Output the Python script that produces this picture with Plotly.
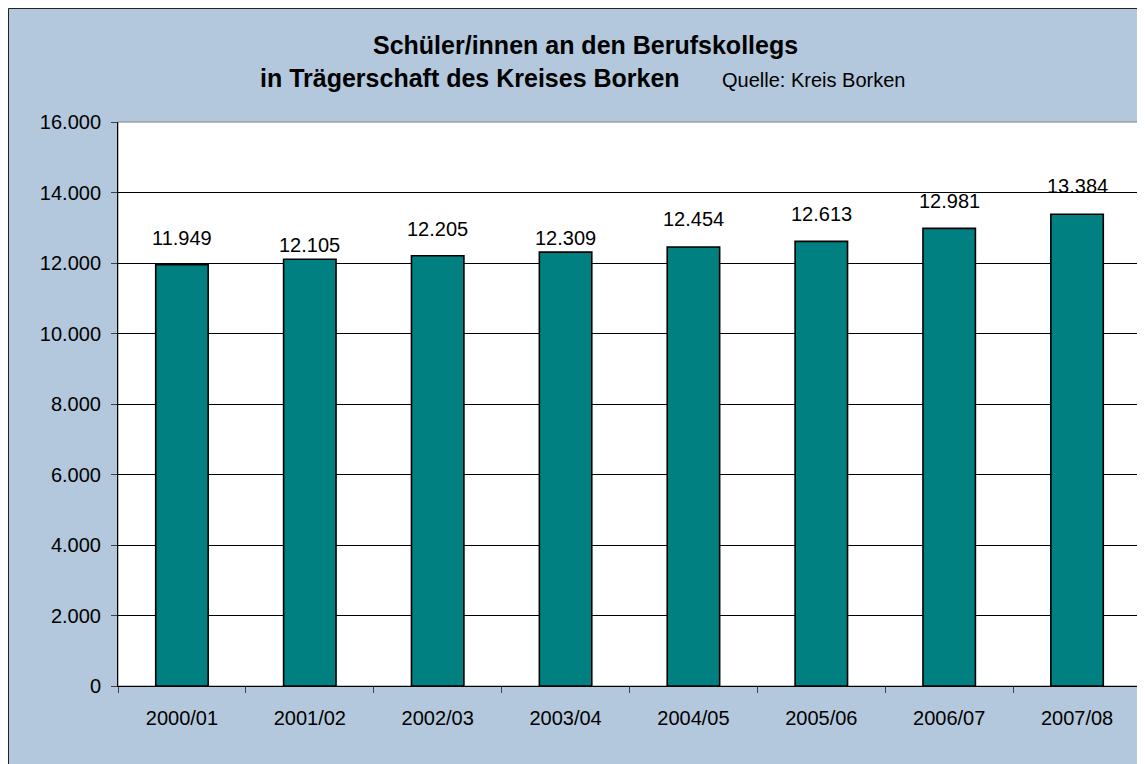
import plotly.graph_objects as go

# ---- data ----
years = ["2000/01", "2001/02", "2002/03", "2003/04", "2004/05", "2005/06", "2006/07", "2007/08"]
students = [11949, 12105, 12205, 12309, 12454, 12613, 12981, 13384]
y_ticks = [0, 2000, 4000, 6000, 8000, 10000, 12000, 14000, 16000]

# label offsets above bar tops (px) as placed in the original chart
label_shift = [27, 14, 27, 14, 28, 27, 27, 28]

FONT = "Liberation Sans, Arial, sans-serif"
BLUE = "#B3C8DC"
TEAL = "#008080"

W, H = 1137, 756
ML, MR, MT, MB = 110, 4, 114, 78
PW, PH = W - ML - MR, H - MT - MB


def px(X):
    return (X - ML) / PW


def py(Y):
    return (H - MB - Y) / PH


fig = go.Figure()
fig.add_trace(go.Bar(
    x=years, y=students,
    marker=dict(color=TEAL, line=dict(color="black", width=1.6)),
    width=0.41,
    hoverinfo="x+y",
))

annotations = []
for yr, v, s in zip(years, students, label_shift):
    annotations.append(dict(
        x=yr, y=v, xref="x", yref="y", text=f"{v:,}".replace(",", "."),
        showarrow=False, yanchor="middle", xanchor="center", yshift=s,
        font=dict(family=FONT, size=20, color="black"),
    ))

annotations += [
    dict(x=px(577), y=py(37), xref="paper", yref="paper",
         text="<b>Schüler/innen an den Berufskollegs</b>", showarrow=False,
         xanchor="center", yanchor="middle",
         font=dict(family=FONT, size=25, color="black")),
    dict(x=px(462), y=py(70), xref="paper", yref="paper",
         text="<b>in Trägerschaft des Kreises Borken</b>", showarrow=False,
         xanchor="center", yanchor="middle",
         font=dict(family=FONT, size=25, color="black")),
    dict(x=px(712), y=py(72), xref="paper", yref="paper",
         text="Quelle: Kreis Borken", showarrow=False,
         xanchor="left", yanchor="middle",
         font=dict(family=FONT, size=20, color="black")),
]

shapes = [
    # outer chart border (left & top visible)
    dict(type="line", xref="paper", yref="paper", x0=px(0.5), x1=px(W + 5), y0=py(0.5), y1=py(0.5),
         line=dict(color="#222222", width=1)),
    dict(type="line", xref="paper", yref="paper", x0=px(0.5), x1=px(0.5), y0=py(0.5), y1=py(H + 5),
         line=dict(color="#222222", width=1)),
    # plot area frame
    dict(type="rect", xref="paper", yref="paper", x0=0, x1=1, y0=0, y1=1,
         line=dict(color="#808080", width=1), fillcolor="rgba(0,0,0,0)", layer="below"),
]

fig.update_layout(
    width=W, height=H,
    margin=dict(l=ML, r=MR, t=MT, b=MB, pad=0),
    paper_bgcolor=BLUE, plot_bgcolor="white",
    separators=",.",
    showlegend=False,
    annotations=annotations,
    shapes=shapes,
    font=dict(family=FONT, size=20, color="black"),
    xaxis=dict(
        type="category", showgrid=False, ticks="outside", tickson="boundaries",
        ticklen=6, tickcolor="#404040", tickwidth=1,
        showline=True, linecolor="black", linewidth=1,
        tickfont=dict(family=FONT, size=20, color="black"),
        ticklabelstandoff=14,
        range=[-0.5, 7.5], fixedrange=True,
    ),
    yaxis=dict(
        range=[0, 16000], tickvals=y_ticks, tickformat=",d",
        showgrid=True, gridcolor="black", gridwidth=1,
        ticks="outside", ticklen=6, tickcolor="#404040", tickwidth=1,
        showline=True, linecolor="black", linewidth=1,
        tickfont=dict(family=FONT, size=20, color="black"),
        ticklabelstandoff=6, zeroline=False, fixedrange=True,
    ),
)

fig.write_html("out.html", config={"displayModeBar": False},
               post_script="document.documentElement.style.overflow='hidden';document.body.style.overflow='hidden';")
